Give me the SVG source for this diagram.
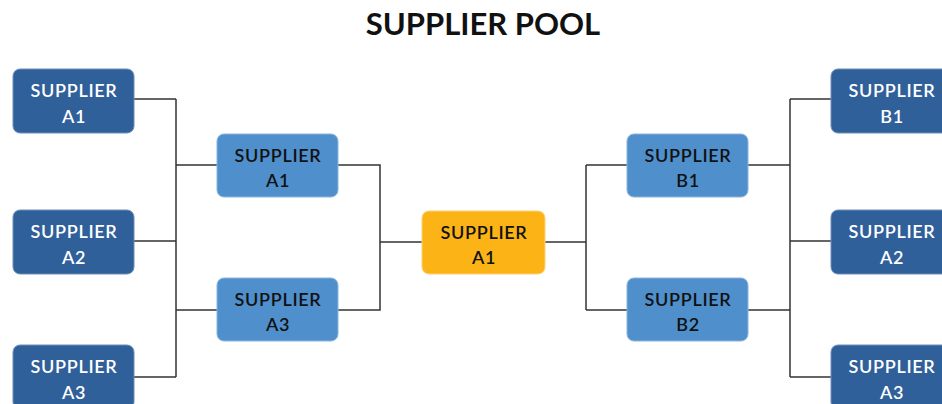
<svg xmlns="http://www.w3.org/2000/svg" width="942" height="404" viewBox="0 0 942 404">
<style>
.n rect{stroke-width:1}
.outer rect{fill:#30609a;stroke:#6d8fb8}
.outer text{fill:#ffffff}
.mid rect{fill:#4f8fcc;stroke:#8ab4dd}
.mid text{fill:#111111}
.ctr rect{fill:#fcb316;stroke:#fdd27a}
.ctr text{fill:#111111}
.n text{font-family:Lato,"Liberation Sans",sans-serif;font-size:18px;font-weight:600;letter-spacing:0.7px;text-anchor:middle}
.title{font-family:Lato,"Liberation Sans",sans-serif;font-size:31px;font-weight:bold;fill:#111;text-anchor:middle}
#connectors path{fill:none;stroke:#333;stroke-width:1.5}
</style>
<rect width="942" height="404" fill="#ffffff"/>
<text class="title" x="483" y="35">SUPPLIER POOL</text>
<g id="connectors">
<path d="M134,99 H176 M134,241 H176 M134,377 H176 M176,99 V377 M176,165 H217 M176,310 H217"/>
<path d="M338,165 H380 V310 H338 M380,242 H422"/>
<path d="M545,242 H586 M586,165 V310 M586,165 H627 M586,310 H627"/>
<path d="M748,165 H790 M748,310 H790 M790,99 V377 M790,99 H831 M790,241 H831 M790,377 H831"/>
</g>
<g id="left-a1" class="n outer"><rect x="13" y="69" width="121" height="64" rx="7"/><text x="74" y="97">SUPPLIER</text><text x="74" y="123">A1</text></g>
<g id="left-a2" class="n outer"><rect x="13" y="210" width="121" height="64" rx="7"/><text x="74" y="238">SUPPLIER</text><text x="74" y="264">A2</text></g>
<g id="left-a3" class="n outer"><rect x="13" y="345" width="121" height="64" rx="7"/><text x="74" y="373">SUPPLIER</text><text x="74" y="399">A3</text></g>
<g id="mid-a1" class="n mid"><rect x="217" y="134" width="121" height="63" rx="7"/><text x="278" y="162">SUPPLIER</text><text x="278" y="187">A1</text></g>
<g id="mid-a3" class="n mid"><rect x="217" y="278" width="121" height="63" rx="7"/><text x="278" y="306">SUPPLIER</text><text x="278" y="331">A3</text></g>
<g id="center-a1" class="n ctr"><rect x="422" y="211" width="123" height="63" rx="7"/><text x="484" y="239">SUPPLIER</text><text x="484" y="264">A1</text></g>
<g id="mid-b1" class="n mid"><rect x="627" y="134" width="121" height="63" rx="7"/><text x="688" y="162">SUPPLIER</text><text x="688" y="187">B1</text></g>
<g id="mid-b2" class="n mid"><rect x="627" y="278" width="121" height="63" rx="7"/><text x="688" y="306">SUPPLIER</text><text x="688" y="331">B2</text></g>
<g id="right-b1" class="n outer"><rect x="831" y="69" width="121" height="64" rx="7"/><text x="892" y="97">SUPPLIER</text><text x="892" y="123">B1</text></g>
<g id="right-a2" class="n outer"><rect x="831" y="210" width="121" height="64" rx="7"/><text x="892" y="238">SUPPLIER</text><text x="892" y="264">A2</text></g>
<g id="right-a3" class="n outer"><rect x="831" y="345" width="121" height="64" rx="7"/><text x="892" y="373">SUPPLIER</text><text x="892" y="399">A3</text></g>
</svg>
